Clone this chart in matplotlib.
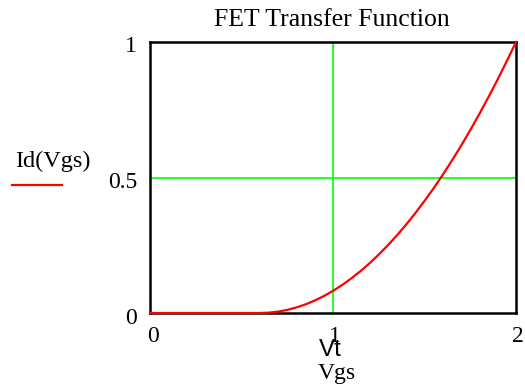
import matplotlib
matplotlib.use("Agg")
from matplotlib import pyplot as plt

# values
vgs = [0.0, 0.1, 0.2, 0.3, 0.4, 0.5, 0.6, 0.65, 0.7, 0.75, 0.8, 0.85, 0.9, 0.95,
       1.0, 1.05, 1.1, 1.15, 1.2, 1.25, 1.3, 1.35, 1.4, 1.45, 1.5, 1.55, 1.6,
       1.65, 1.7, 1.75, 1.8, 1.85, 1.9, 1.95, 2.0]
id_vgs = [0.0, 0.0, 0.0, 0.0, 0.0, 0.0, 0.0, 0.0013, 0.0051, 0.0115, 0.0204, 0.0319,
          0.0459, 0.0625, 0.0816, 0.1033, 0.1276, 0.1543, 0.1837, 0.2156, 0.25,
          0.2870, 0.3265, 0.3686, 0.4133, 0.4605, 0.5102, 0.5625, 0.6173, 0.6747,
          0.7347, 0.7972, 0.8622, 0.9298, 1.0]
vt = 1.0
x_ticks = [0, 1, 2]
y_ticks = [0, 0.5, 1]

serif = "Liberation Serif"
W, H = 525, 387


def fx(px):
    return px / W


def fy(py):
    return 1 - py / H


fig = plt.figure(figsize=(5.25, 3.87), dpi=100)
ax = fig.add_axes([fx(150), fy(313), fx(516) - fx(150), fy(42) - fy(313)])

ax.axvline(vt, color="#00ff00", lw=1.2, zorder=1)
ax.axhline(0.5, color="#00ff00", lw=1.2, zorder=1)
ax.plot(vgs, id_vgs, color="#ff0000", lw=1.6, zorder=5, clip_on=False)

ax.set_xlim(0, 2)
ax.set_ylim(0, 1)
for s in ax.spines.values():
    s.set_linewidth(1.8)
    s.set_zorder(3)
ax.tick_params(length=0)
ax.set_xticks(x_ticks)
ax.set_yticks(y_ticks)
ax.set_xticklabels([])
ax.set_yticklabels([])

# tick labels placed like the reference
for t, px in zip(x_ticks, [153, 335, 518]):
    fig.text(fx(px), fy(337), str(t), family=serif, fontsize=17,
             ha="center", va="center")
for lab, py in zip(["1", "0.5", "0"], [47, 182, 318]):
    fig.text(fx(137), fy(py), lab, family=serif, fontsize=17,
             ha="right", va="center")

fig.text(fx(332), fy(20), "FET Transfer Function", family=serif, fontsize=18.5,
         ha="center", va="center")

# marker label and axis name under the x axis
fig.text(fx(330), fy(350), "Vt", family="Liberation Sans", fontsize=17.5,
         ha="center", va="center")
fig.text(fx(337), fy(374), "Vgs", family=serif, fontsize=17,
         ha="center", va="center")

# trace label at the left
fig.text(fx(53), fy(161), "Id(Vgs)", family=serif, fontsize=17.5,
         ha="center", va="center")
fig.add_artist(plt.Line2D([fx(12), fx(62)], [fy(185), fy(185)],
                          color="#ff0000", lw=1.6))

fig.savefig("out.png", dpi=100)
